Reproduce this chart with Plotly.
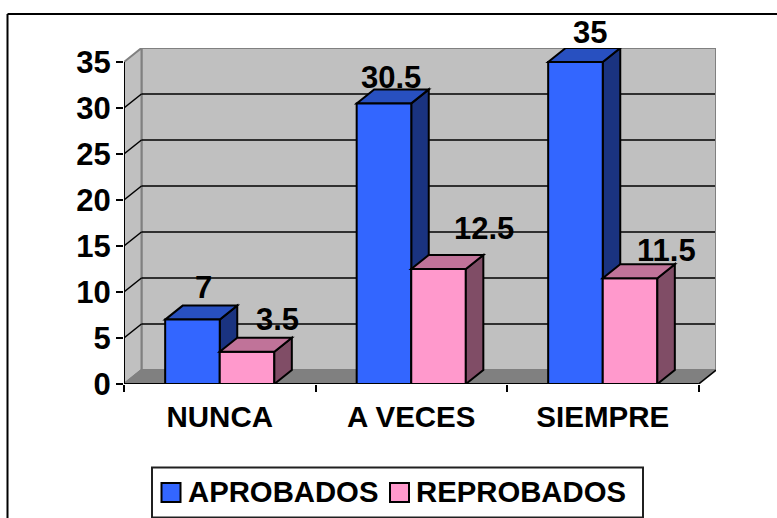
import plotly.graph_objects as go

categories = ["NUNCA", "A VECES", "SIEMPRE"]
aprobados = [7, 30.5, 35]
reprobados = [3.5, 12.5, 11.5]
y_ticks = [0, 5, 10, 15, 20, 25, 30, 35]
label_aprobados = ["7", "30.5", "35"]
label_reprobados = ["3.5", "12.5", "11.5"]
series_names = ["APROBADOS", "REPROBADOS"]
series_colors = ["#3366FF", "#FF99CC"]
# label offsets from the bar's front-top centre, in px (dx, up)
off_aprobados = [(11, 32), (7, 26), (15, 30)]
off_reprobados = [(30, 32), (45, 41), (36, 28)]

W, H = 777, 518
L, R, T, B = 124, 716, 48, 384
UX = (R - L) / (3 + 17.5 / 191)     # px per category
UY = 9.2                             # px per value unit
DX = 17.5 / UX                       # depth in x units
DY = 14 / UY                         # depth in y units
BW = 0.285
FONT = "Liberation Sans"
YTOP = 35 + DY
XMIN, XMAX = -0.5, 2.5 + DX


def px(p):
    return (p - L) / (R - L)


def py(p):
    return 1 - (p - T) / (B - T)


def poly(points):
    return "M" + "L".join(f"{x:.4f},{y:.4f}" for x, y in points) + "Z"


shapes = []


def data_shape(path, fill, line="black", width=2, layer="below"):
    shapes.append(dict(type="path", path=path, xref="x", yref="y", fillcolor=fill,
                       line=dict(color=line, width=width), layer=layer))


def seg(x0, y0, x1, y1, color="black", width=2, layer="below"):
    shapes.append(dict(type="line", xref="x", yref="y", x0=x0, y0=y0, x1=x1, y1=y1,
                       line=dict(color=color, width=width), layer=layer))


# walls and floor
data_shape(poly([(XMIN + DX, DY), (XMAX, DY), (XMAX, YTOP), (XMIN + DX, YTOP)]), "#C0C0C0", "#808080")
data_shape(poly([(XMIN, 0), (XMIN + DX, DY), (XMIN + DX, YTOP), (XMIN, 35)]), "#C0C0C0", "#808080")
data_shape(poly([(XMIN, 0), (XMAX - DX, 0), (XMAX, DY), (XMIN + DX, DY)]), "#808080", "#808080")
# gridlines
for v in y_ticks[1:-1]:
    seg(XMIN, v, XMIN + DX, v + DY, width=1.5)
    seg(XMIN + DX, v + DY, XMAX - 0.005, v + DY, width=1.5)
# axis lines
seg(XMIN, 0, XMIN, 35)
seg(XMIN, 0, XMAX - DX, 0)
seg(XMAX - DX, 0, XMAX, DY, width=1.5)


def box_faces(v, x0, x1, top, side, layer):
    data_shape(poly([(x1, 0), (x1 + DX, DY), (x1 + DX, v + DY), (x1, v)]), side, layer=layer)
    data_shape(poly([(x0, v), (x1, v), (x1 + DX, v + DY), (x0 + DX, v + DY)]), top, layer=layer)


for i, v in enumerate(aprobados):
    box_faces(v, i - BW, i, "#2850C0", "#1A3380", "below")
for i, v in enumerate(reprobados):
    box_faces(v, i, i + BW, "#C07399", "#804D66", "above")

# outer frame (open at the bottom and right)
shapes.append(dict(type="line", xref="paper", yref="paper", x0=px(7.5), x1=px(W + 5), y0=py(14), y1=py(14),
                   line=dict(color="black", width=2)))
shapes.append(dict(type="line", xref="paper", yref="paper", x0=px(7.5), x1=px(7.5), y0=py(14), y1=py(H + 5),
                   line=dict(color="black", width=2)))
# legend frame
shapes.append(dict(type="rect", xref="paper", yref="paper", x0=px(152), x1=px(643), y0=py(467.5), y1=py(517.5),
                   line=dict(color="#202020", width=2), fillcolor="white", layer="below"))

fig = go.Figure()
for name, vals, col in zip(series_names, [aprobados, reprobados], series_colors):
    fig.add_trace(go.Bar(x=categories, y=vals, name=name, showlegend=False,
                         marker=dict(color=col, line=dict(color="black", width=2))))

annotations = []
for vals, labels, offs, centre in [(aprobados, label_aprobados, off_aprobados, -BW / 2),
                                   (reprobados, label_reprobados, off_reprobados, BW / 2)]:
    for i, (v, t, (dx, up)) in enumerate(zip(vals, labels, offs)):
        annotations.append(dict(x=i + centre, y=v, xref="x", yref="y", text=f"<b>{t}</b>", showarrow=False,
                                xanchor="center", yanchor="middle", xshift=dx, yshift=up,
                                font=dict(family=FONT, size=31, color="black")))

# legend
for name, col, sw, tx in zip(series_names, series_colors, [161.5, 390], [188, 416]):
    shapes.append(dict(type="rect", xref="paper", yref="paper", x0=px(sw), x1=px(sw + 19),
                       y0=py(483), y1=py(502), fillcolor=col, line=dict(color="black", width=2), layer="above"))
    annotations.append(dict(x=px(tx), y=py(491.5), xref="paper", yref="paper", text=f"<b>{name}</b>",
                            showarrow=False, xanchor="left", yanchor="middle", borderpad=0, borderwidth=0,
                            font=dict(family=FONT, size=29.3, color="black")))

fig.update_layout(
    width=W, height=H, autosize=False,
    margin=dict(l=L, r=W - R, t=T, b=H - B),
    paper_bgcolor="white", plot_bgcolor="rgba(0,0,0,0)",
    barmode="group", bargap=1 - 2 * BW, bargroupgap=0,
    showlegend=False,
    shapes=shapes, annotations=annotations,
    xaxis=dict(type="category", categoryorder="array", categoryarray=categories, range=[XMIN, XMAX],
               tickson="boundaries", ticks="outside", ticklen=7, tickwidth=1.5, tickcolor="black",
               showgrid=False, showline=False, zeroline=False, ticklabelstandoff=12,
               tickfont=dict(family=FONT, size=29.5, color="black", weight="bold")),
    yaxis=dict(range=[0, YTOP], tickvals=y_ticks, ticks="outside", ticklen=7, tickwidth=2, tickcolor="black",
               showgrid=False, showline=False, zeroline=False, ticklabelstandoff=-1,
               tickfont=dict(family=FONT, size=31, color="black", weight="bold")),
)
fig.write_html("out.html", config=dict(displayModeBar=False),
               post_script="document.body.style.margin='0';document.documentElement.style.overflow='hidden';")
